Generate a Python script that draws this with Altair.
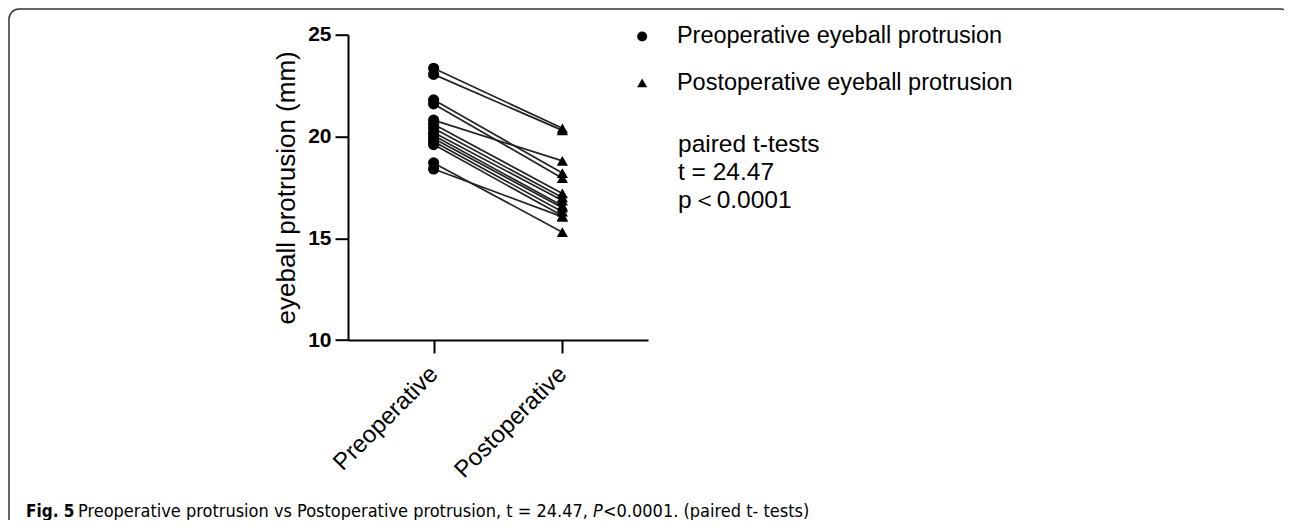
import altair as alt
import pandas as pd

phases = ["Preoperative", "Postoperative"]
series_labels = ["Preoperative eyeball protrusion", "Postoperative eyeball protrusion"]
pre_values = [23.35, 23.05, 21.8, 21.6, 20.8, 20.6, 20.4, 20.2, 20.05, 19.9, 19.75, 19.6, 18.7, 18.4]
post_values = [20.4, 20.3, 18.2, 17.95, 18.8, 17.2, 17.0, 16.85, 16.6, 16.5, 16.3, 16.1, 15.3, 16.05]
y_ticks = [10, 15, 20, 25]
stats_lines = ["paired t-tests", "t = 24.47", "p＜0.0001"]
caption_bold = "Fig. 5"
caption_a = "Preoperative protrusion vs Postoperative protrusion, t = 24.47, "
caption_italic = "P"
caption_b = "<0.0001. (paired t- tests)"

rows = []
for i, (a, b) in enumerate(zip(pre_values, post_values)):
    rows.append({"id": i, "phase": phases[0], "series": series_labels[0], "value": a})
    rows.append({"id": i, "phase": phases[1], "series": series_labels[1], "value": b})
df = pd.DataFrame(rows)

FONT = "Liberation Sans, Arial, Helvetica, sans-serif"
CAPFONT = "DejaVu Sans Condensed, DejaVu Sans, sans-serif"

x = alt.X(
    "phase:N",
    sort=phases,
    scale=alt.Scale(type="point", domain=phases, padding=0.665),
    axis=alt.Axis(
        title=None, labelAngle=-45, labelAlign="right", labelBaseline="middle",
        labelFontSize=24, labelFont=FONT, labelColor="black", labelPadding=17,
        tickSize=13, tickWidth=2, tickColor="black", domainWidth=2,
        domainColor="black", grid=False,
    ),
)
y = alt.Y(
    "value:Q",
    scale=alt.Scale(domain=[10, 25], nice=False, zero=False),
    axis=alt.Axis(
        title="eyeball protrusion (mm)", values=y_ticks, labelFontSize=21,
        labelFontWeight="bold", labelFont=FONT, labelColor="black", labelPadding=4,
        tickSize=13, tickWidth=2, tickColor="black", domainWidth=2,
        domainColor="black", grid=False, titleFont=FONT, titleFontSize=26,
        titleFontWeight="normal", titleColor="black", titlePadding=8,
    ),
)

base = alt.Chart(df)
lines = base.mark_line(color="#222222", strokeWidth=1.7).encode(x=x, y=y, detail="id:N")
points = base.mark_point(filled=True, color="black", opacity=1, size=125).encode(
    x=x,
    y=y,
    shape=alt.Shape(
        "series:N",
        scale=alt.Scale(domain=series_labels, range=["circle", "triangle-up"]),
        legend=alt.Legend(
            title=None, orient="none", legendX=282.4, legendY=-10.0,
            labelFont=FONT, labelFontSize=23.5, labelColor="black", labelLimit=1000,
            symbolSize=100, symbolFillColor="black", symbolStrokeColor="black",
            symbolStrokeWidth=0, symbolOpacity=1,
            rowPadding=21.5, labelOffset=23, padding=0,
        ),
    ),
)

one = pd.DataFrame({"k": [0]})
stats = alt.Chart(pd.DataFrame({"t": ["\n".join(stats_lines)]})).mark_text(
    align="left", baseline="alphabetic", font=FONT, fontSize=24.5, color="black",
    lineBreak="\n", lineHeight=28.4,
).encode(x=alt.value(330), y=alt.value(116.9), text="t:N")

cap1 = alt.Chart(pd.DataFrame({"t": [caption_bold]})).mark_text(
    align="left", baseline="alphabetic", font=CAPFONT, fontSize=17, fontWeight="bold", color="black"
).encode(x=alt.value(-322), y=alt.value(482.3), text="t:N")
cap2 = alt.Chart(pd.DataFrame({"t": [caption_a]})).mark_text(
    align="left", baseline="alphabetic", font=CAPFONT, fontSize=18, color="black"
).encode(x=alt.value(-270), y=alt.value(482.3), text="t:N")
cap3 = alt.Chart(pd.DataFrame({"t": [caption_italic]})).mark_text(
    align="left", baseline="alphabetic", font=CAPFONT, fontSize=18, fontStyle="italic", color="black"
).encode(x=alt.value(245), y=alt.value(482.3), text="t:N")
cap4 = alt.Chart(pd.DataFrame({"t": [caption_b]})).mark_text(
    align="left", baseline="alphabetic", font=CAPFONT, fontSize=18, color="black"
).encode(x=alt.value(255), y=alt.value(482.3), text="t:N")

frame = alt.Chart(one).mark_rect(
    fillOpacity=0, stroke="#333333", strokeWidth=1.5, cornerRadius=10
).encode(x=alt.value(-339), x2=alt.value(943), y=alt.value(-25.7), y2=alt.value(520))

chart = alt.layer(frame, lines, points, stats, cap1, cap2, cap3, cap4).properties(
    width=300, height=305.3,
    padding={"left": 340, "top": 26.7, "right": 636, "bottom": 180},
    autosize=alt.AutoSizeParams(type="none"),
).configure(background="white").configure_view(stroke=None)

chart.save("out.html", embed_options={"renderer": "svg", "actions": False})
